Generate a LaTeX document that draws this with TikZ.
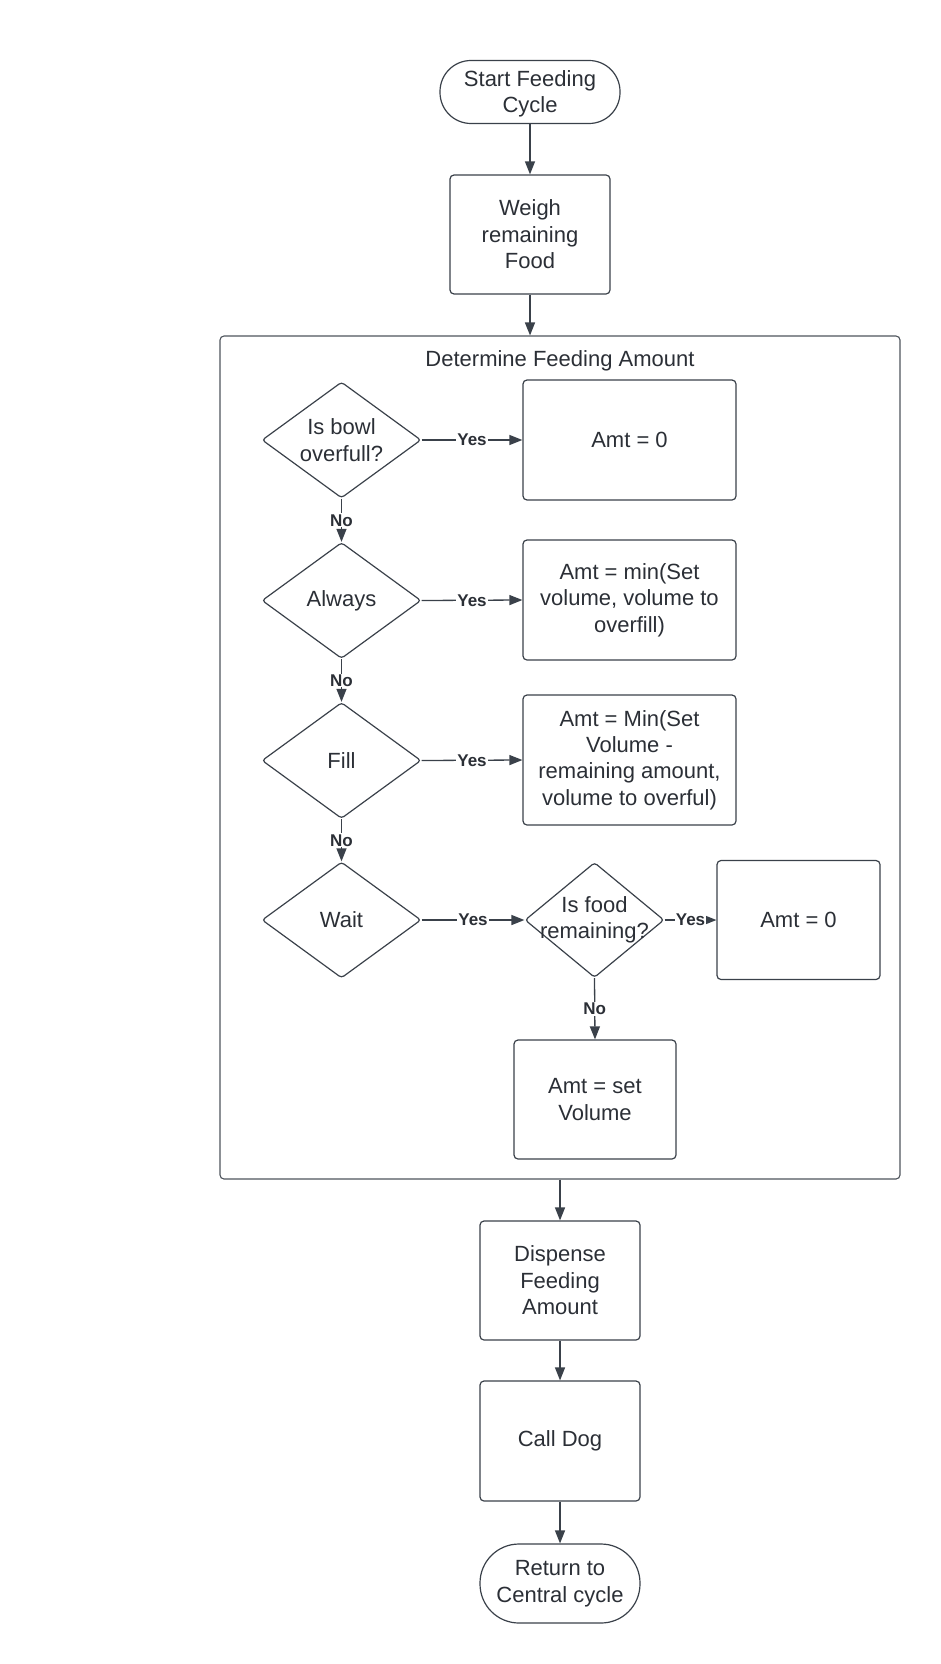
\documentclass[tikz,border=0pt]{standalone}
\usepackage{fontspec}
\setmainfont{Liberation Sans}
\usetikzlibrary{shapes.geometric,arrows.meta}
\definecolor{ink}{HTML}{3A414A}
\definecolor{txt}{HTML}{2B2F36}
\begin{document}
\begin{tikzpicture}[x=1pt,y=-1pt,
  every node/.style={text=txt,font=\fontsize{22}{26.4}\selectfont},
  stepbox/.style={draw=ink,line width=1.2pt,rounded corners=4pt,align=center,
    minimum width=160pt,minimum height=119pt,inner sep=0pt},
  termbox/.style={draw=ink,line width=1.2pt,align=center,inner sep=0pt},
  dec/.style={draw=ink,line width=1.2pt,diamond,inner sep=0pt,
    minimum width=159pt,minimum height=116pt,rounded corners=3pt},
  grpbox/.style={draw=ink!90,line width=1.1pt,rounded corners=4pt,
    minimum width=680pt,minimum height=843pt,inner sep=0pt},
  flow/.style={draw=ink,line width=1.3pt,-{Triangle[length=13pt,width=10pt]}},
  tag/.style={fill=white,inner sep=1pt,font=\bfseries\fontsize{17}{19}\selectfont}
]
\useasboundingbox (0,0) rectangle (940,1664);

% entry and pre-processing
\node[termbox,minimum width=180pt,minimum height=63pt,rounded corners=31pt,
  label={[align=center,yshift=-2pt]center:Start Feeding\\Cycle}]
  (start) at (530,92) {};
\node[stepbox] (weigh) at (530,234.5) {Weigh\\remaining\\Food};

% group that decides how much to feed
\node[grpbox] (grp) at (560,757.5) {};
\node (grptitle) at (560,361) {Determine Feeding Amount};

\node[dec,label={[align=center]center:Is bowl\\overfull?}] (d1) at (341.5,440) {};
\node[stepbox,minimum width=213pt,minimum height=120pt] (a1) at (629.5,440) {Amt = 0};

\node[dec,label={center:Always}] (d2) at (341.5,600.5) {};
\node[stepbox,minimum width=213pt,minimum height=120pt] (a2) at (629.5,600)
  {Amt = min(Set\\volume, volume to\\overfill)};

\node[dec,label={center:Fill}] (d3) at (341.5,760.5) {};
\node[stepbox,minimum width=213pt,minimum height=130pt] (a3) at (629.5,760)
  {Amt = Min(Set\\Volume -\\remaining amount,\\volume to overful)};

\node[dec,label={center:Wait}] (d4) at (341.5,920) {};
\node[dec,minimum width=139pt,minimum height=115pt,
  label={[align=center]center:Is food\\remaining?}] (d5) at (594.5,920) {};
\node[stepbox,minimum width=163pt] (a4) at (798.5,920) {Amt = 0};
\node[stepbox,minimum width=162pt] (a5) at (595,1099.5) {Amt = set\\Volume};

% post-processing and exit
\node[stepbox] (disp) at (560,1280.5) {Dispense\\Feeding\\Amount};
\node[stepbox,minimum height=120pt] (call) at (560,1441) {Call Dog};
\node[termbox,minimum width=160pt,minimum height=79pt,rounded corners=39pt]
  (ret) at (560,1583.5) {Return to\\Central cycle};

% connectors
\draw[flow] (start) -- (weigh);
\draw[flow] (weigh.south) -- (weigh.south |- grp.north);

\draw[flow] (d1.east) -- node[tag]{Yes} (a1.west);
\draw[flow] (d2.east) -- node[tag]{Yes} (a2.west);
\draw[flow] (d3.east) -- node[tag]{Yes} (a3.west);
\draw[flow] (d4.east) -- node[tag]{Yes} (d5.west);
\draw[flow] (d5.east) -- node[tag]{Yes} (a4.west);

\draw[flow] (d1.south) -- node[tag]{No} (d2.north);
\draw[flow] (d2.south) -- node[tag]{No} (d3.north);
\draw[flow] (d3.south) -- node[tag]{No} (d4.north);
\draw[flow] (d5.south) -- node[tag]{No} (a5.north);

\draw[flow] (grp.south) -- (disp.north);
\draw[flow] (disp) -- (call);
\draw[flow] (call) -- (ret);
\end{tikzpicture}
\end{document}
